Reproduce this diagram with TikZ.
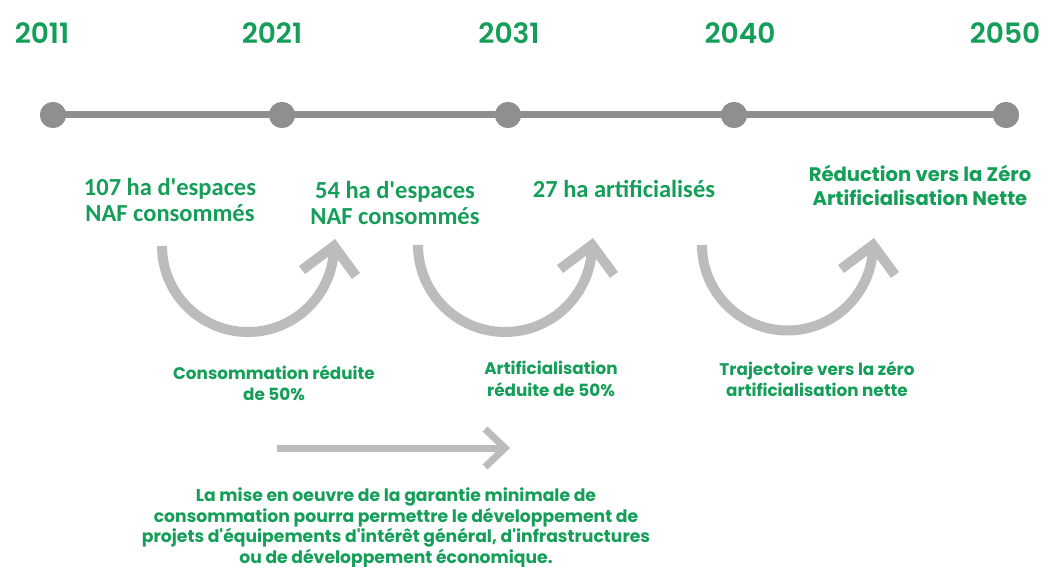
\documentclass[tikz,border=0pt]{standalone}
\usepackage{fontspec}
\newfontfamily\pop{Poppins}
\newfontfamily\popsb{Poppins SemiBold}
\newfontfamily\carl{Carlito}
\usetikzlibrary{calc}
\definecolor{tgreen}{RGB}{20,158,88}
\definecolor{tline}{RGB}{143,143,143}
\definecolor{tarrow}{RGB}{188,188,188}
\tikzset{
  year/.style={text=tgreen, font=\popsb\fontsize{28}{30}\selectfont, inner sep=0pt},
  toplab/.style={text=tgreen, font=\carl\fontsize{24.5}{26}\selectfont\bfseries, align=center, inner sep=0pt},
  lowlab/.style={text=tgreen, font=\pop\fontsize{16.8}{21.7}\selectfont\bfseries, align=center, inner sep=0pt},
  para/.style={lowlab, font=\pop\fontsize{17.2}{20.6}\selectfont\bfseries},
  dot/.style={circle, fill=tline, minimum size=26pt, inner sep=0pt},
  tl/.style={draw=tline, line width=7pt},
  carrow/.style={draw=tarrow, line width=10pt, line join=miter},
  harrow/.style={draw=tarrow, line width=7pt, line join=miter}
}
\newcommand{\curvarrow}[4]{% cx cy r name
  \draw[carrow] (#1-#3,#2) coordinate (#4s) arc[start angle=180, end angle=0, radius=#3] coordinate (#4t);
  \draw[carrow] ($(#4t)+(-32,24)$) -- (#4t) -- ($(#4t)+(22,30)$);
}
\begin{document}
\begin{tikzpicture}[x=1pt,y=-1pt]
\useasboundingbox (0,0) rectangle (1054,567);
% timeline
\node[dot] (d1) at (53,115) {};
\node[dot] (d2) at (282,115) {};
\node[dot] (d3) at (508,115) {};
\node[dot] (d4) at (734,115) {};
\node[dot] (d5) at (1006,115) {};
\draw[tl] (d1.center) -- (d2.center) -- (d3.center) -- (d4.center) -- (d5.center);
\foreach \d in {d1,d2,d3,d4,d5} \fill[tline] (\d) circle (13pt);
% years
\node[year] (y1) at (42,33) {2011};
\node[year] (y2) at (272,33) {2021};
\node[year] (y3) at (509,33) {2031};
\node[year] (y4) at (740,33) {2040};
\node[year] (y5) at (1005,33) {2050};
% top labels
\node[toplab] (t1) at (170,200) {107 ha d'espaces\\NAF consommés};
\node[toplab] (t2) at (395,203) {54 ha d'espaces\\NAF consommés};
\node[toplab] (t3) at (624,189) {27 ha artificialisés};
\node[toplab,font=\pop\fontsize{19.6}{24}\selectfont\bfseries] (t4) at (920,185) {Réduction vers la Zéro\\Artificialisation Nette};
% curved arrows
\curvarrow{248}{246}{86}{a}
\curvarrow{505}{245}{87}{b}
\curvarrow{787.5}{245}{85.5}{c}
% lower labels
\node[lowlab] (l1) at (274,383) {Consommation réduite\\de 50\%};
\node[lowlab] (l2) at (551,379) {Artificialisation\\réduite de 50\%};
\node[lowlab] (l3) at (817,379) {Trajectoire vers la zéro\\artificialisation nette};
% horizontal arrow
\coordinate (hs) at (277,448);
\coordinate (he) at (505,448);
\draw[harrow] (hs) -- (he);
\draw[harrow] ($(he)+(-20,-19)$) -- (he) -- ($(he)+(-20,19)$);
% bottom paragraph
\node[para] (p) at (396,528) {La mise en oeuvre de la garantie minimale de\\consommation pourra permettre le développement de\\projets d'équipements d'intérêt général, d'infrastructures\\ou de développement économique.};
\end{tikzpicture}
\end{document}
